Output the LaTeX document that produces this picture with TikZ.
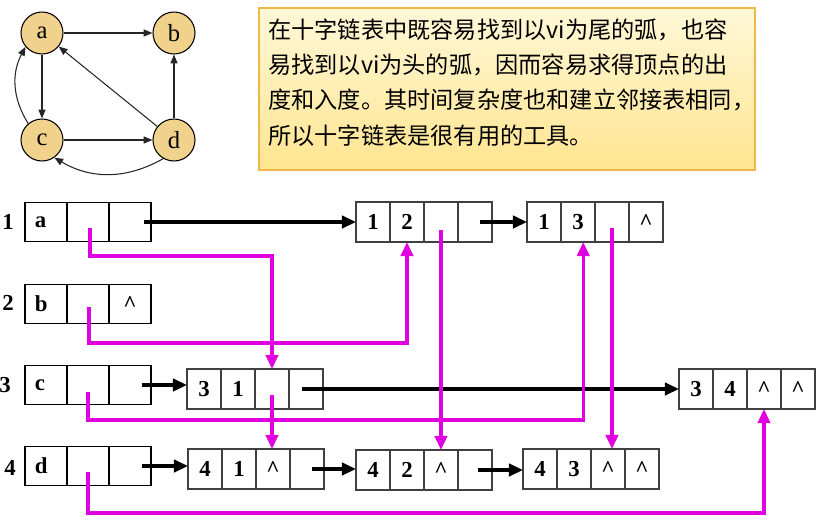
\documentclass[tikz,border=0pt]{standalone}
\usepackage{fontspec}
\setmainfont{Liberation Serif}
\newfontfamily\cjk{Noto Sans CJK SC}
\usepackage{tikz}
\usetikzlibrary{arrows.meta,positioning,shapes,calc}
\usepackage{xcolor}
\definecolor{vexfill}{HTML}{F0D28C}
\definecolor{boxtop}{HTML}{FFF8D8}
\definecolor{boxbot}{HTML}{FFE590}
\definecolor{boxline}{HTML}{F0B84A}
\definecolor{inlink}{HTML}{E000E0}

\tikzset{
  vex/.style={circle,draw=black,line width=0.6pt,fill=vexfill,minimum size=0.84cm,inner sep=0pt,font=\fontsize{14}{16}\selectfont},
  gedge/.style={draw=black!85,line width=0.6pt,-{Triangle[length=5pt,width=4pt]}},
  vcell/.style={draw=black,line width=0.6pt,minimum width=0.84cm,minimum height=0.78cm,inner sep=0pt,outer sep=0pt,font=\bfseries\fontsize{13}{15}\selectfont},
  acell/.style={draw=black!75,line width=0.9pt,minimum width=0.68cm,minimum height=0.8cm,inner sep=0pt,outer sep=0pt,font=\bfseries\fontsize{13}{15}\selectfont},
  rowlab/.style={font=\bfseries\fontsize{13}{15}\selectfont},
  outl/.style={draw=black,line width=1.8pt,-{Triangle[length=8pt,width=7pt]}},
  inl/.style={draw=inlink,line width=1.8pt,-{Triangle[length=8pt,width=7pt]}},
}

\begin{document}
\begin{tikzpicture}[x=0.02cm,y=-0.02cm]
    \useasboundingbox (0,0) rectangle (819,522);

    % small digraph
    \node[vex] (a) at (42,33) {a};
    \node[vex] (b) at (174,33) {b};
    \node[vex] (c) at (42,140) {c};
    \node[vex] (d) at (174,140) {d};
    \draw[gedge] (a) -- (b);
    \draw[gedge] (a) -- (c);
    \draw[gedge] (c) -- (d);
    \draw[gedge] (d) -- (b);
    \draw[gedge] (d) -- (a);
    \draw[gedge] (c.130) to[bend left=30] (a.220);
    \draw[gedge] (d.240) to[bend left=30] (c.-55);

    % note box
    \node[draw=boxline,line width=0.8pt,top color=boxtop,bottom color=boxbot,
          minimum width=9.92cm,minimum height=3.24cm,inner sep=0pt] (note) at (507,89) {};
    \node[anchor=north west,align=left,font=\cjk\fontsize{13.2}{20.2}\selectfont,inner sep=0pt] (notetext) at (268,18)
      {在十字链表中既容易找到以vi为尾的弧，也容\\
       易找到以vi为头的弧，因而容易求得顶点的出\\
       度和入度。其时间复杂度也和建立邻接表相同，\\
       所以十字链表是很有用的工具。};

    % vertex records
    \node[rowlab] (r1) at (8,222) {1};
    \node[rowlab] (r2) at (8,303) {2};
    \node[rowlab] (r3) at (5,385) {3};
    \node[rowlab] (r4) at (10,468) {4};

    \node[vcell,text width=0.45cm,align=left] (v1d) at (46,222) {a};
    \node[vcell,right=0pt of v1d] (v1in) {};
    \node[vcell,right=0pt of v1in] (v1out) {};

    \node[vcell,text width=0.45cm,align=left] (v2d) at (46,304) {b};
    \node[vcell,right=0pt of v2d] (v2in) {};
    \node[vcell,right=0pt of v2in] (v2out) {\textasciicircum};

    \node[vcell,text width=0.45cm,align=left] (v3d) at (46,385) {c};
    \node[vcell,right=0pt of v3d] (v3in) {};
    \node[vcell,right=0pt of v3in] (v3out) {};

    \node[vcell,text width=0.45cm,align=left] (v4d) at (46,466) {d};
    \node[vcell,right=0pt of v4d] (v4in) {};
    \node[vcell,right=0pt of v4in] (v4out) {};

    % arc records: tail, head, hlink, tlink
    \node[acell] (a12t) at (373,222) {1};
    \node[acell,right=0pt of a12t] (a12h) {2};
    \node[acell,right=0pt of a12h] (a12l) {};
    \node[acell,right=0pt of a12l] (a12n) {};

    \node[acell] (a13t) at (544,222) {1};
    \node[acell,right=0pt of a13t] (a13h) {3};
    \node[acell,right=0pt of a13h] (a13l) {};
    \node[acell,right=0pt of a13l] (a13n) {\textasciicircum};

    \node[acell] (a31t) at (204,389) {3};
    \node[acell,right=0pt of a31t] (a31h) {1};
    \node[acell,right=0pt of a31h] (a31l) {};
    \node[acell,right=0pt of a31l] (a31n) {};

    \node[acell] (a34t) at (696,389) {3};
    \node[acell,right=0pt of a34t] (a34h) {4};
    \node[acell,right=0pt of a34h] (a34l) {\textasciicircum};
    \node[acell,right=0pt of a34l] (a34n) {\textasciicircum};

    \node[acell] (a41t) at (205,469) {4};
    \node[acell,right=0pt of a41t] (a41h) {1};
    \node[acell,right=0pt of a41h] (a41l) {\textasciicircum};
    \node[acell,right=0pt of a41l] (a41n) {};

    \node[acell] (a42t) at (373,470) {4};
    \node[acell,right=0pt of a42t] (a42h) {2};
    \node[acell,right=0pt of a42h] (a42l) {\textasciicircum};
    \node[acell,right=0pt of a42l] (a42n) {};

    \node[acell] (a43t) at (540,469) {4};
    \node[acell,right=0pt of a43t] (a43h) {3};
    \node[acell,right=0pt of a43h] (a43l) {\textasciicircum};
    \node[acell,right=0pt of a43l] (a43n) {\textasciicircum};

    % out-arc chains (black)
    \draw[outl] (v1out.center) ++(14,0) -- (a12t.west |- v1out.center);
    \draw[outl] (a12n.center) ++(5,0) -- (a13t.west);
    \draw[outl] (v3out.center) ++(12,0) -- (a31t.west |- v3out.center);
    \draw[outl] (a31n.center) ++(-4,0) -- (a34t.west);
    \draw[outl] (v4out.center) ++(12,0) -- (a41t.west |- v4out.center);
    \draw[outl] (a41n.center) ++(5,0) -- (a42t.west |- a41n.center);
    \draw[outl] (a42n.center) ++(3,0) -- (a43t.west |- a42n.center);

    % in-arc chains (magenta)
    \draw[inl] (v1in.center) ++(2,6) -- ++(0,28) -| (a31l.north);
    \draw[inl] (v2in.center) ++(1,3) -- ++(0,36) -| (a12h.south);
    \draw[inl] (v3in.center) ++(0,7) -- ++(0,28) -| ([xshift=3pt]a13h.south);
    \draw[inl] (v4in.center) ++(0,6) -- ++(0,41) -| (a34l.south);
    \draw[inl] (a31l.center) ++(0,6) -- (a31l.center |- a41l.north);
    \draw[inl] (a12l.center) ++(0,8) -- (a12l.center |- a42l.north);
    \draw[inl] (a13l.center) ++(0,6) -- (a13l.center |- a43l.north);
\end{tikzpicture}
\end{document}
